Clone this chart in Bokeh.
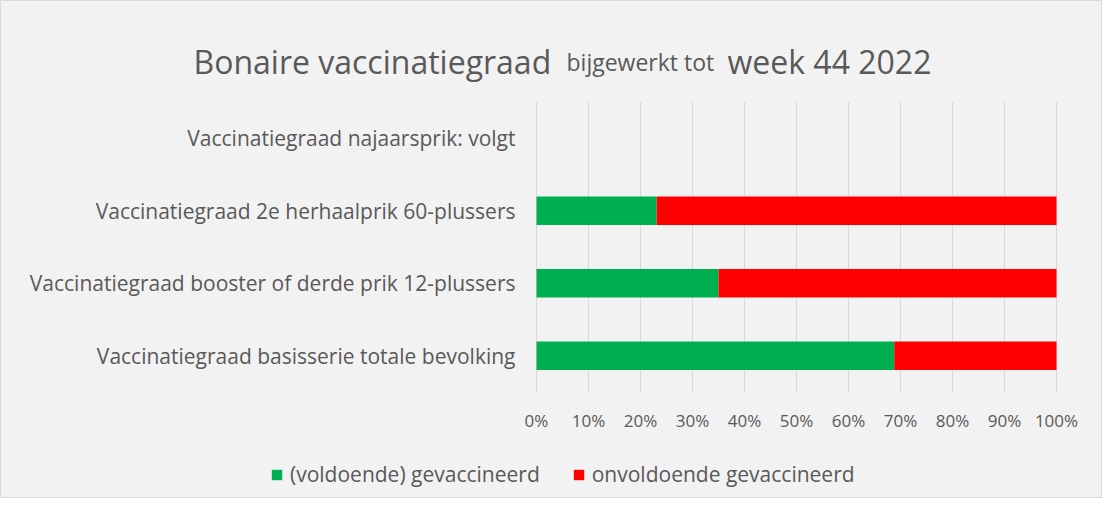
from bokeh.plotting import figure
from bokeh.models import Range1d, ColumnDataSource
from bokeh.core.properties import value
from bokeh.embed import file_html
from bokeh.resources import INLINE

# ---- data ----
categories = [
    "Vaccinatiegraad basisserie totale bevolking",
    "Vaccinatiegraad booster of derde prik 12-plussers",
    "Vaccinatiegraad 2e herhaalprik 60-plussers",
    "Vaccinatiegraad najaarsprik: volgt",
]
gevaccineerd = [68.8, 35.0, 23.1, 0.0]
onvoldoende = [31.2, 65.0, 76.9, 0.0]
series_names = ["(voldoende) gevaccineerd", "onvoldoende gevaccineerd"]
x_ticks = [0, 10, 20, 30, 40, 50, 60, 70, 80, 90, 100]
x_tick_labels = ["0%", "10%", "20%", "30%", "40%", "50%", "60%", "70%", "80%", "90%", "100%"]
title_main = "Bonaire vaccinatiegraad"
title_sub = "bijgewerkt tot"
title_week = "week 44 2022"

GREEN = "#00b050"
RED = "#ff0000"
TXT = "#595959"
BG = "#f2f2f2"
FONT = value("Open Sans")

W, H = 1102, 498
# pixel geometry of the plotting area (x: 0%..100%, y: category bands)
X0, PX_PER_PCT = 536.0, 5.2
Y_BOTTOM, PX_PER_CAT = 391.5, 72.5


def xd(px):
    return (px - X0) / PX_PER_PCT


def yd(py):
    return (Y_BOTTOM - py) / PX_PER_CAT - 0.5


ypos = list(range(len(categories)))
src = ColumnDataSource(dict(y=ypos, gev=gevaccineerd, onv=onvoldoende, lab=categories))

p = figure(width=W, height=H, output_backend="svg", toolbar_location=None,
           x_range=Range1d(xd(0), xd(W)), y_range=Range1d(yd(H), yd(0)),
           min_border=0, x_axis_type=None, y_axis_type=None)
p.background_fill_color = BG
p.border_fill_color = BG
p.outline_line_color = "#d9d9d9"
p.xgrid.visible = False
p.ygrid.visible = False

# vertical gridlines
n = len(x_ticks)
p.segment(x0=x_ticks, y0=[-0.5] * n, x1=x_ticks, y1=[len(categories) - 0.5] * n,
          line_color="#d9d9d9", line_width=1)

# stacked bars
p.hbar_stack(["gev", "onv"], y="y", height=0.39, color=[GREEN, RED], line_color=None,
             source=src, legend_label=series_names)

# x tick labels
p.text(x=x_ticks, y=[yd(420)] * n, text=x_tick_labels, text_font=FONT,
       text_font_size="17px", text_color=TXT, text_align="center", text_baseline="middle")

# category labels
p.text(x=xd(515), y="y", text="lab", source=src, text_font=FONT, text_font_size="21px",
       text_color=TXT, text_align="right", text_baseline="middle")

# title pieces
ty = yd(61)
for txt, xpx, size in [(title_main, 193, "32px"), (title_sub, 566, "23px"), (title_week, 727, "32px")]:
    p.text(x=[xd(xpx)], y=[ty], text=[txt], text_font=FONT, text_font_size=size,
           text_color=TXT, text_align="left", text_baseline="alphabetic")

# legend
lg = p.legend[0]
lg.orientation = "horizontal"
lg.location = (270, 10)
lg.border_line_color = None
lg.background_fill_alpha = 0
lg.padding = 0
lg.margin = 0
lg.spacing = 32
lg.glyph_width = 13
lg.glyph_height = 13
lg.label_standoff = 7
lg.label_text_font = "Open Sans"
lg.label_text_font_size = "21px"
lg.label_text_color = TXT

open("out.html", "w").write(file_html(p, INLINE))
